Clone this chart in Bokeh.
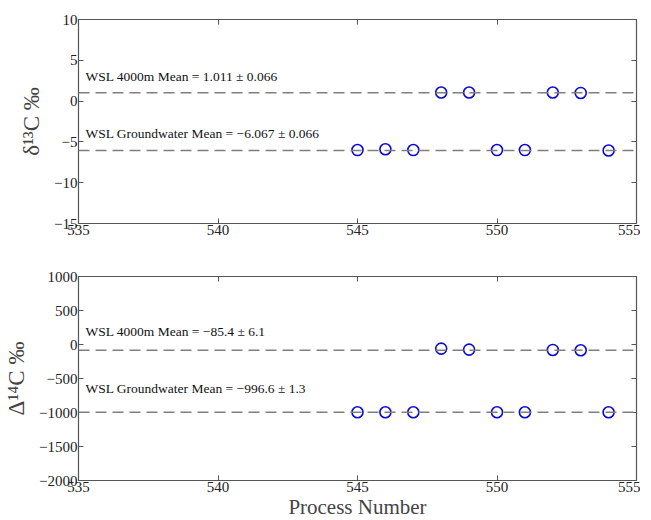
from bokeh.plotting import figure
from bokeh.layouts import column
from bokeh.models import Span, Label, LinearAxis, FixedTicker, Range1d
from bokeh.embed import file_html
from bokeh.resources import INLINE

# ---- data ----
x_4000 = [548, 549, 552, 553]
x_gw = [545, 546, 547, 550, 551, 554]
d13c_4000 = [1.05, 1.05, 1.05, 1.0]
d13c_gw = [-6.0, -5.9, -6.0, -6.0, -6.0, -6.05]
D14c_4000 = [-60, -75, -80, -85]
D14c_gw = [-997, -997, -997, -997, -997, -997]
mean_d13c = [1.011, -6.067]
mean_D14c = [-85.4, -996.6]
labels_d13c = ["WSL 4000m Mean = 1.011 \u00b1 0.066", "WSL Groundwater Mean = \u22126.067 \u00b1 0.066"]
labels_D14c = ["WSL 4000m Mean = \u221285.4 \u00b1 6.1", "WSL Groundwater Mean = \u2212996.6 \u00b1 1.3"]
x_ticks = [535, 540, 545, 550, 555]
y1_ticks = [-15, -10, -5, 0, 5, 10]
y2_ticks = [-2000, -1500, -1000, -500, 0, 500, 1000]

FONT = "Liberation Serif"
AX = "#555555"

def fmt(v):
    return str(v).replace("-", "\u2212")

def mk_axis(ticks, show):
    ax = LinearAxis(ticker=FixedTicker(ticks=ticks))
    ax.axis_line_color = AX
    ax.major_tick_line_color = AX
    ax.major_tick_in = 5
    ax.major_tick_out = 0
    ax.minor_tick_line_color = None
    ax.major_label_text_font = FONT
    ax.major_label_text_font_size = "15px"
    ax.major_label_text_color = "#222222"
    if show:
        ax.major_label_standoff = 1
        ax.major_label_overrides = {v: fmt(v) for v in ticks}
    else:
        ax.major_label_standoff = 0
        ax.major_label_overrides = {v: "" for v in ticks}
    return ax

def panel(bt, bb, yr, yt, xa, ya, xb, yb, means, labels, label_y, ylabel, xlabel=None):
    p = figure(frame_width=558, frame_height=204, x_range=Range1d(535, 555), y_range=Range1d(*yr),
               output_backend="svg", toolbar_location=None, x_axis_location=None,
               y_axis_location=None,
               min_border_left=78, min_border_right=4, min_border_top=bt, min_border_bottom=bb)
    p.xgrid.visible = False
    p.ygrid.visible = False
    p.outline_line_color = AX
    p.outline_line_width = 1.2
    left = mk_axis(yt, True)
    bottom = mk_axis(x_ticks, True)
    right = mk_axis(yt, False)
    top = mk_axis(x_ticks, False)
    left.axis_label = ylabel
    left.axis_label_text_font = FONT
    left.axis_label_text_font_size = "23px"
    left.axis_label_text_font_style = "normal"
    left.axis_label_standoff = 7
    if xlabel:
        bottom.axis_label = xlabel
        bottom.axis_label_text_font = FONT
        bottom.axis_label_text_font_size = "21px"
        bottom.axis_label_text_font_style = "normal"
        bottom.axis_label_standoff = 0
    p.add_layout(left, "left")
    p.add_layout(bottom, "below")
    p.add_layout(right, "right")
    p.add_layout(top, "above")
    for m in means:
        p.add_layout(Span(location=m, dimension="width", line_color="#7f7f7f",
                          line_dash="11 6", line_width=1.5))
    p.scatter(xa, ya, size=11, fill_color=None, line_color="#0a0ad8", line_width=1.6)
    p.scatter(xb, yb, size=11, fill_color=None, line_color="#0a0ad8", line_width=1.6)
    for txt, ly in zip(labels, label_y):
        p.add_layout(Label(x=535.25, y=ly, text=txt, text_font=FONT, text_font_size="13.5px",
                           text_color="#111111", text_baseline="alphabetic"))
    return p

p1 = panel(19, 28, (-15, 10), y1_ticks, x_4000, d13c_4000, x_gw, d13c_gw,
           mean_d13c, labels_d13c, [3.0, -4.0], "\u03b4\u00b9\u00b3C \u2030")
p2 = panel(25, 37, (-2000, 1000), y2_ticks, x_4000, D14c_4000, x_gw, D14c_gw,
           mean_D14c, labels_D14c, [195, -645], "\u0394\u00b9\u2074C \u2030", "Process Number")

layout = column(p1, p2, spacing=0)
open("out.html", "w").write(file_html(layout, INLINE))
